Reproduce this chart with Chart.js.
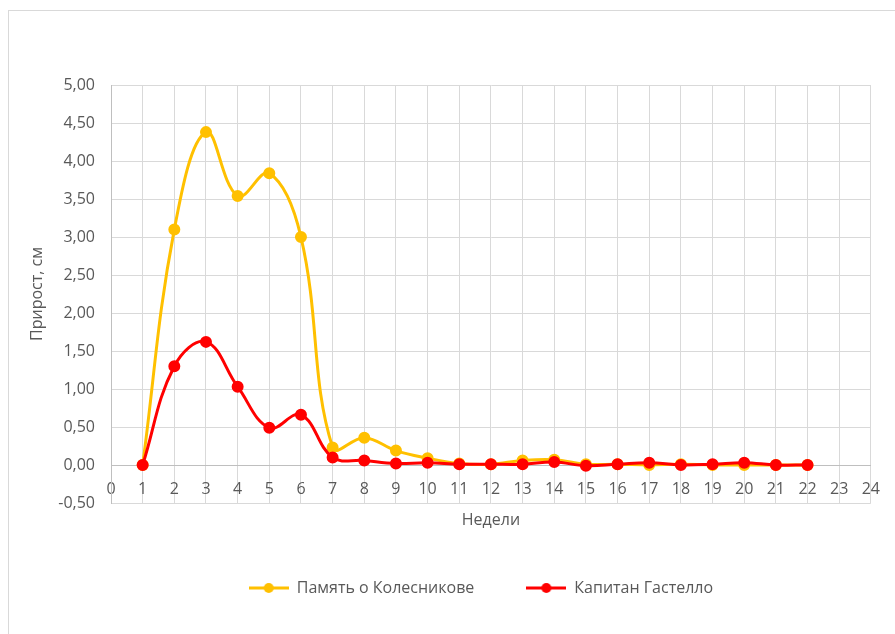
<!DOCTYPE html>
<html>
<head>
<meta charset="utf-8">
<script src="https://cdn.jsdelivr.net/npm/chart.js@4.4.0/dist/chart.umd.min.js"></script>
<style>
  html, body { margin: 0; padding: 0; background: #ffffff; overflow: hidden; width: 895px; height: 634px; }
  #frame { position: absolute; left: 8px; top: 10px; width: 1000px; height: 700px; border: 1.5px solid #d9d9d9; box-sizing: border-box; }
  #wrap { position: absolute; left: 9px; top: 11px; width: 886px; height: 623px; }
</style>
</head>
<body>
<div id="frame"></div>
<div id="wrap"><canvas id="growth"></canvas></div>
<script>
// Weekly growth of two varieties, cm
const weeks = [1, 2, 3, 4, 5, 6, 7, 8, 9, 10, 11, 12, 13, 14, 15, 16, 17, 18, 19, 20, 21, 22];
const kolesnikov = [0.00, 3.10, 4.38, 3.54, 3.84, 3.00, 0.23, 0.36, 0.19, 0.09, 0.02, 0.01, 0.06, 0.07, 0.01, 0.01, 0.00, 0.01, 0.00, 0.00, 0.00, 0.00];
const gastello   = [0.00, 1.30, 1.62, 1.03, 0.49, 0.66, 0.10, 0.06, 0.02, 0.03, 0.01, 0.01, 0.01, 0.04, -0.01, 0.01, 0.03, 0.00, 0.01, 0.03, 0.00, 0.00];
const seriesNames = ['Память о Колесникове', 'Капитан Гастелло'];
const seriesColors = ['#ffc000', '#ff0000'];
const xAxisTitle = 'Недели';
const yAxisTitle = 'Прирост, см';

const textColor = '#595959';
const gridColor = '#d9d9d9';
const axisColor = '#bfbfbf';
const fontFamily = '"Open Sans", "Liberation Sans", sans-serif';
const fontSize = 16;

// Legend swatch: a short line with a round marker on it
function legendSwatch(color) {
  const c = document.createElement('canvas');
  c.width = 40; c.height = 12;
  const g = c.getContext('2d');
  g.strokeStyle = color; g.lineWidth = 3;
  g.beginPath(); g.moveTo(0, 6); g.lineTo(40, 6); g.stroke();
  g.fillStyle = color;
  g.beginPath(); g.arc(20, 6, 5, 0, Math.PI * 2); g.fill();
  return c;
}
const swatches = seriesColors.map(legendSwatch);

function toPoints(values) {
  return weeks.map((w, i) => ({ x: w, y: values[i] }));
}

// Centre the legend under the plot together with its value labels
const legendUnderPlot = {
  id: 'legendUnderPlot',
  afterLayout(chart) {
    const lg = chart.legend, area = chart.chartArea;
    lg.left = area.left - 20;
    lg.right = area.right;
    lg.width = lg.right - lg.left;
  }
};

Chart.defaults.font.family = fontFamily;

function lineDataset(i, values, order) {
  return {
    label: seriesNames[i],
    data: toPoints(values),
    borderColor: seriesColors[i],
    backgroundColor: seriesColors[i],
    pointBackgroundColor: seriesColors[i],
    pointBorderColor: seriesColors[i],
    borderWidth: 3,
    pointRadius: 5,
    pointBorderWidth: 2,
    tension: 0.4,
    order: order,
    xAxisID: 'x'
  };
}

new Chart(document.getElementById('growth'), {
  type: 'line',
  data: {
    datasets: [
      lineDataset(0, kolesnikov, 2),
      lineDataset(1, gastello, 1)
    ]
  },
  options: {
    responsive: true,
    maintainAspectRatio: false,
    animation: false,
    events: [],
    layout: { padding: { left: 0, top: 74, right: 22, bottom: 28 } },
    scales: {
      x: {
        type: 'linear',
        min: 0,
        max: 24,
        position: { y: 0 },
        ticks: {
          stepSize: 1,
          autoSkip: false,
          maxRotation: 0,
          padding: 15,
          color: textColor,
          font: { size: fontSize }
        },
        grid: {
          color: (ctx) => (ctx.tick && ctx.tick.value === 0 ? 'rgba(0,0,0,0)' : gridColor),
          lineWidth: 1,
          drawTicks: false
        },
        border: { color: axisColor, width: 1 }
      },
      xt: {
        type: 'linear',
        min: 0,
        max: 24,
        position: 'bottom',
        ticks: { display: false },
        grid: { display: false, drawTicks: false },
        border: { display: false },
        title: {
          display: true,
          text: xAxisTitle,
          color: textColor,
          font: { size: fontSize, lineHeight: 1 },
          padding: { top: 9, bottom: 0 }
        }
      },
      y: {
        type: 'linear',
        min: -0.5,
        max: 5,
        position: 'left',
        ticks: {
          stepSize: 0.5,
          padding: 16,
          color: textColor,
          font: { size: fontSize },
          callback: (v) => v.toFixed(2).replace('.', ',')
        },
        grid: {
          color: (ctx) => (ctx.tick && ctx.tick.value === 0 ? 'rgba(0,0,0,0)' : gridColor),
          lineWidth: 1,
          drawTicks: false
        },
        border: { color: axisColor, width: 1 },
        title: {
          display: true,
          text: yAxisTitle,
          color: textColor,
          font: { size: fontSize },
          padding: { top: 19, bottom: 0 }
        },
        afterFit(scale) { scale.width = 102; }
      }
    },
    plugins: {
      tooltip: { enabled: false },
      legend: {
        position: 'bottom',
        labels: {
          usePointStyle: true,
          pointStyleWidth: 40,
          padding: 52,
          color: textColor,
          font: { size: fontSize },
          generateLabels: () => seriesNames.map((name, i) => ({
            text: name,
            fillStyle: seriesColors[i],
            strokeStyle: seriesColors[i],
            lineWidth: 0,
            pointStyle: swatches[i],
            fontColor: textColor,
            hidden: false,
            datasetIndex: i
          }))
        }
      }
    }
  },
  plugins: [legendUnderPlot]
});
</script>
</body>
</html>
